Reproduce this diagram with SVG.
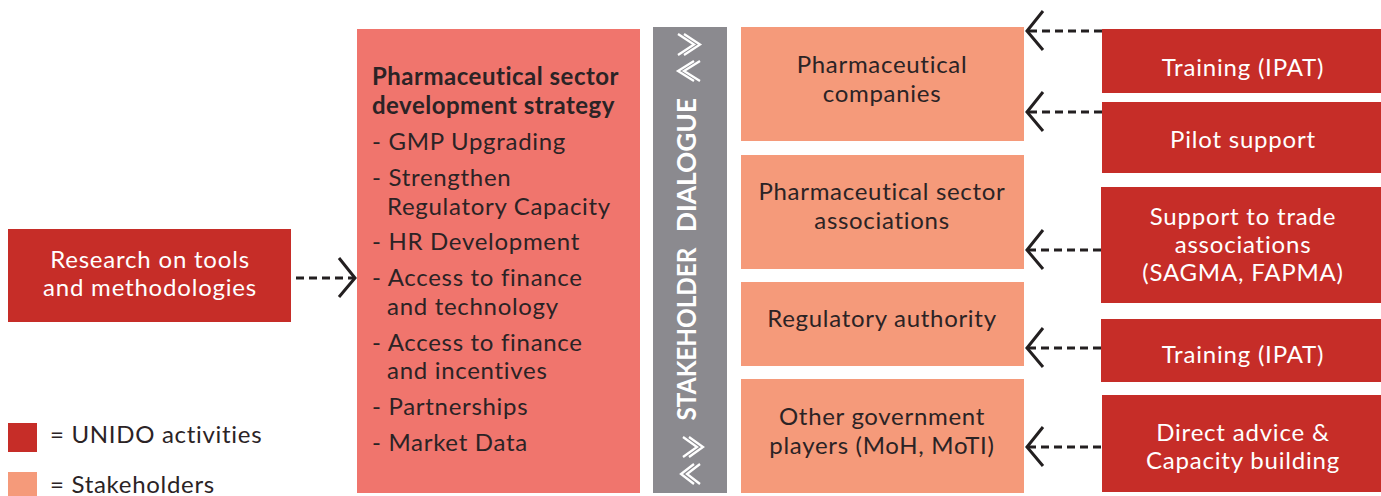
<svg xmlns="http://www.w3.org/2000/svg" width="1381" height="496" viewBox="0 0 1381 496">
<style>
  text { font-family: Lato, "Open Sans", "Liberation Sans", sans-serif; }
  .red { fill: #c62d28; }
  .sh { fill: #f59a7a; }
  .main { fill: #f0756d; }
  .grey { fill: #8b8a8f; }
  .wt { fill: #ffffff; font-size: 24px; letter-spacing: 0.8px; text-anchor: middle; }
  .dt { fill: #2b2325; font-size: 24px; letter-spacing: 0.7px; text-anchor: middle; }
  .lt { fill: #2b2325; font-size: 24px; letter-spacing: 0.7px; }
  .bt { fill: #2b2325; font-size: 24px; letter-spacing: 0.5px; font-weight: bold; }
  .vt { fill: #ffffff; font-size: 27px; font-weight: bold; text-anchor: middle; }
  .conn line { stroke: #231f20; stroke-width: 3.2; stroke-dasharray: 8 5; fill: none; }
  .conn polyline { stroke: #231f20; stroke-width: 3; fill: none; }
  .chev polyline { stroke: #ffffff; stroke-width: 2.3; fill: none; }
</style>
<rect x="0" y="0" width="1381" height="496" fill="#ffffff"/>

<g id="research">
  <rect class="red" x="8" y="229" width="283" height="93"/>
  <text class="wt" x="150" y="268">Research on tools</text>
  <text class="wt" x="150" y="296">and methodologies</text>
</g>

<g id="strategy">
  <rect class="main" x="357" y="29" width="283" height="464"/>
  <text class="bt" x="372" y="85">Pharmaceutical sector</text>
  <text class="bt" x="372" y="114">development strategy</text>
  <text class="lt" x="372" y="150">- GMP Upgrading</text>
  <text class="lt" x="372" y="186">- Strengthen</text>
  <text class="lt" x="387" y="215">Regulatory Capacity</text>
  <text class="lt" x="372" y="250">- HR Development</text>
  <text class="lt" x="372" y="286">- Access to finance</text>
  <text class="lt" x="387" y="315">and technology</text>
  <text class="lt" x="372" y="351">- Access to finance</text>
  <text class="lt" x="387" y="379">and incentives</text>
  <text class="lt" x="372" y="415">- Partnerships</text>
  <text class="lt" x="372" y="451">- Market Data</text>
</g>

<g id="dialogue">
  <rect class="grey" x="653" y="27" width="74" height="466"/>
  <text class="vt" x="696" y="334" transform="rotate(-90 696 334)" textLength="173" lengthAdjust="spacingAndGlyphs">STAKEHOLDER</text>
  <text class="vt" x="696" y="165" transform="rotate(-90 696 165)" textLength="134" lengthAdjust="spacingAndGlyphs">DIALOGUE</text>
  <g class="chev">
    <polyline points="678,34 694,44.5 678,55"/>
    <polyline points="684,34 700,44.5 684,55"/>
    <polyline points="694,61 678,71 694,81"/>
    <polyline points="700,61 684,71 700,81"/>
    <polyline points="683,437 697,447 683,457"/>
    <polyline points="689,437 703,447 689,457"/>
    <polyline points="694,464 681,474 694,484"/>
    <polyline points="700,464 687,474 700,484"/>
  </g>
</g>

<g id="pharma-companies">
  <rect class="sh" x="741" y="27" width="283" height="114"/>
  <text class="dt" x="882" y="73">Pharmaceutical</text>
  <text class="dt" x="882" y="102">companies</text>
</g>
<g id="sector-associations">
  <rect class="sh" x="741" y="155" width="283" height="114"/>
  <text class="dt" x="882" y="200">Pharmaceutical sector</text>
  <text class="dt" x="882" y="229">associations</text>
</g>
<g id="regulatory-authority">
  <rect class="sh" x="741" y="282" width="283" height="84"/>
  <text class="dt" x="882" y="327">Regulatory authority</text>
</g>
<g id="other-government">
  <rect class="sh" x="741" y="379" width="283" height="114"/>
  <text class="dt" x="882" y="425">Other government</text>
  <text class="dt" x="882" y="454">players (MoH, MoTI)</text>
</g>

<g id="training-1">
  <rect class="red" x="1102" y="29" width="279" height="64"/>
  <text class="wt" x="1243" y="76">Training (IPAT)</text>
</g>
<g id="pilot-support">
  <rect class="red" x="1102" y="102" width="279" height="71"/>
  <text class="wt" x="1243" y="148">Pilot support</text>
</g>
<g id="trade-support">
  <rect class="red" x="1101" y="187" width="280" height="116"/>
  <text class="wt" x="1243" y="225">Support to trade</text>
  <text class="wt" x="1243" y="253">associations</text>
  <text class="wt" x="1243" y="281">(SAGMA, FAPMA)</text>
</g>
<g id="training-2">
  <rect class="red" x="1101" y="319" width="280" height="63"/>
  <text class="wt" x="1243" y="363">Training (IPAT)</text>
</g>
<g id="direct-advice">
  <rect class="red" x="1102" y="395" width="279" height="97"/>
  <text class="wt" x="1243" y="441">Direct advice &amp;</text>
  <text class="wt" x="1243" y="469">Capacity building</text>
</g>

<g id="legend">
  <rect class="red" x="8" y="423" width="29" height="29"/>
  <text class="lt" x="50" y="443">= UNIDO activities</text>
  <rect class="sh" x="8" y="472" width="29" height="29"/>
  <text class="lt" x="50" y="493">= Stakeholders</text>
</g>

<g id="connectors" class="conn">
  <line x1="296" y1="278" x2="353" y2="278"/>
  <polyline points="339,258 355,278 339,297"/>
  <line x1="1102" y1="31" x2="1028" y2="31"/>
  <polyline points="1043,11 1027,31 1043,50"/>
  <line x1="1102" y1="112" x2="1028" y2="112"/>
  <polyline points="1043,92 1027,112 1043,131"/>
  <line x1="1101" y1="250" x2="1028" y2="250"/>
  <polyline points="1043,230 1027,250 1043,269"/>
  <line x1="1101" y1="348" x2="1028" y2="348"/>
  <polyline points="1043,328 1027,348 1043,367"/>
  <line x1="1101" y1="447" x2="1028" y2="447"/>
  <polyline points="1043,427 1027,447 1043,466"/>
</g>
</svg>
